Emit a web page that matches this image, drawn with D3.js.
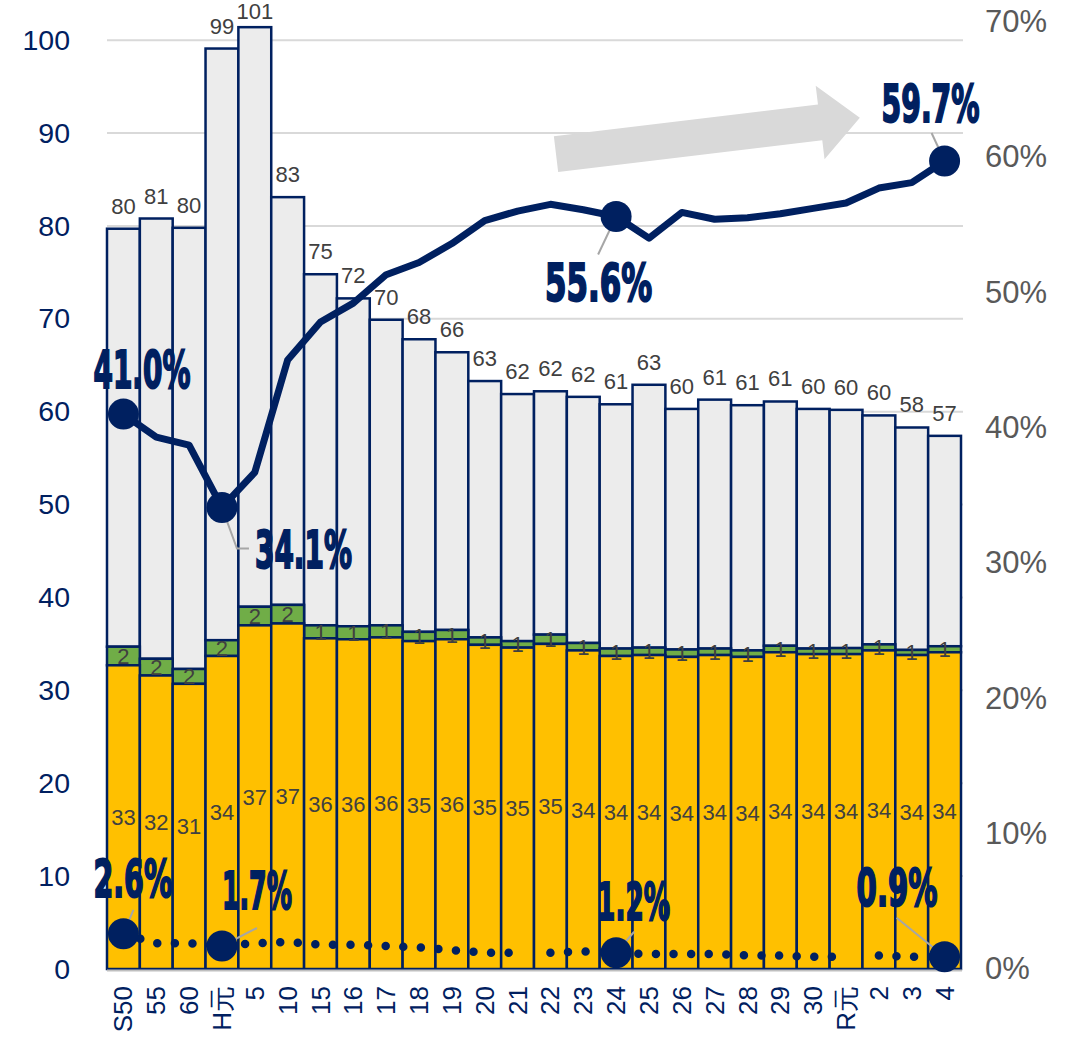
<!DOCTYPE html>
<html><head><meta charset="utf-8">
<script src="https://cdn.jsdelivr.net/npm/d3@7"></script>
<style>body{margin:0;background:#fff}svg{display:block}</style>
</head><body>
<svg id="c" width="1071" height="1040"></svg>
<script>
// ---- data ----
const categories = ["S50","55","60","H元","5","10","15","16","17","18","19","20","21","22","23","24","25","26","27","28","29","30","R元","2","3","4"];
const totals = [79.7,80.8,79.8,99.1,101.4,83.1,74.8,72.2,69.9,67.8,66.4,63.3,61.9,62.2,61.6,60.8,62.9,60.3,61.3,60.7,61.1,60.3,60.2,59.6,58.3,57.4];
const yellowVals = [32.7,31.6,30.7,33.7,37.0,37.2,35.6,35.5,35.7,35.3,35.5,34.9,34.6,35.0,34.3,33.7,33.8,33.6,33.8,33.6,34.1,33.9,33.9,34.3,33.8,34.1];
const greenVals = [2.0,1.8,1.6,1.7,2.0,2.0,1.4,1.4,1.3,1.0,1.0,0.8,0.7,1.0,0.8,0.8,0.8,0.8,0.7,0.7,0.7,0.6,0.65,0.65,0.55,0.65];
const ratioA = [0.410,0.393,0.387,0.341,0.367,0.450,0.478,0.492,0.513,0.522,0.536,0.553,0.560,0.565,0.561,0.556,0.540,0.559,0.554,0.555,0.558,0.562,0.566,0.577,0.581,0.597];
const ratioB = [0.026,0.019,0.019,0.017,0.019,0.020,0.018,0.018,0.017,0.016,0.014,0.012,0.012,0.012,0.013,0.012,0.011,0.011,0.011,0.010,0.010,0.009,0.009,0.010,0.009,0.009];
const dotBreaks = [12,22];
const leftTicks = [0,10,20,30,40,50,60,70,80,90,100];
const rightTicks = [0,0.1,0.2,0.3,0.4,0.5,0.6,0.7];

// ---- layout ----
const svg = d3.select("#c");
const X0 = 107, X1 = 961, Y0 = 969, YT = 21.6;
const x = d3.scaleBand().domain(categories).range([X0, X1]).padding(0);
const xi = d3.scaleLinear().domain([0, categories.length]).range([X0, X1]);
const yL = d3.scaleLinear().domain([0, 102]).range([Y0, YT]);
const yR = d3.scaleLinear().domain([0, 0.70]).range([Y0, YT]);
const navy = "#002060";
const cx = i => x(categories[i]) + x.bandwidth() / 2;

// gridlines
svg.append("g").selectAll("line").data(leftTicks.filter(d => d > 0)).join("line")
  .attr("x1", X0).attr("x2", X1 + 2).attr("y1", d => yL(d)).attr("y2", d => yL(d))
  .attr("stroke", "#d9d9d9").attr("stroke-width", 2);

// left axis
const gl = svg.append("g").attr("transform", `translate(${X0},0)`)
  .call(d3.axisLeft(yL).tickValues(leftTicks).tickSize(0).tickPadding(37));
gl.select(".domain").remove();
gl.selectAll("text").attr("fill", navy).attr("font-size", 28.5).attr("font-family", "Liberation Sans, Arial, sans-serif");

// right axis
const gr = svg.append("g").attr("transform", `translate(${X1},0)`)
  .call(d3.axisRight(yR).tickValues(rightTicks).tickFormat(d3.format(".0%")).tickSize(0).tickPadding(24));
gr.select(".domain").remove();
gr.selectAll("text").attr("fill", "#595959").attr("font-size", 31).attr("font-family", "Liberation Sans, Arial, sans-serif");

// stacked bars
const rows = categories.map((c, i) => ({c, i, y: yellowVals[i], g: greenVals[i], t: totals[i]}));
const bars = svg.append("g");
const segs = [
  {key: "grey", lo: d => d.y + d.g, hi: d => d.t, fill: "#ececec"},
  {key: "green", lo: d => d.y, hi: d => d.y + d.g, fill: "#70ad47"},
  {key: "yellow", lo: d => 0, hi: d => d.y, fill: "#ffc000"}
];
segs.forEach(s => {
  bars.append("g").selectAll("rect").data(rows).join("rect")
    .attr("x", d => x(d.c)).attr("width", x.bandwidth())
    .attr("y", d => yL(s.hi(d))).attr("height", d => yL(s.lo(d)) - yL(s.hi(d)))
    .attr("fill", s.fill).attr("stroke", navy).attr("stroke-width", 2.5);
});

// axis baseline
svg.append("line").attr("x1", X0).attr("x2", X1 + 1).attr("y1", Y0 + 1.5).attr("y2", Y0 + 1.5)
  .attr("stroke", "#bfbfbf").attr("stroke-width", 2);

// bar labels
const lblFont = "Liberation Sans, Arial, sans-serif";
const lbl = svg.append("g").attr("font-family", lblFont).attr("font-size", 22).attr("fill", "#404040").attr("text-anchor", "middle");
lbl.selectAll("text.tot").data(rows).join("text").attr("class", "tot")
  .attr("x", d => cx(d.i)).attr("y", d => Math.max(yL(d.t) - 15, 19)).text(d => Math.round(d.t));
lbl.selectAll("text.yel").data(rows).join("text").attr("class", "yel")
  .attr("x", d => cx(d.i)).attr("y", d => yL(d.y / 2)).attr("dy", "0.36em").text(d => Math.round(d.y));
lbl.selectAll("text.grn").data(rows).join("text").attr("class", "grn")
  .attr("x", d => cx(d.i)).attr("y", d => yL(d.y + d.g / 2)).attr("dy", "0.36em").text(d => Math.round(d.g));

// x axis labels
svg.append("g").selectAll("text").data(categories).join("text")
  .attr("transform", (d, i) => `translate(${cx(i) + 9},${Y0 + 17}) rotate(-90)`)
  .attr("text-anchor", "end").attr("font-size", 26).attr("font-family", lblFont)
  .attr("fill", navy).text(d => d);

// trend arrow (in data space)
(function(){
  const sx = xi(13.67), sy = yR(0.602), ex = xi(22.92), ey = yR(0.629);
  const len = Math.hypot(ex - sx, ey - sy), ang = Math.atan2(ey - sy, ex - sx) * 180 / Math.PI;
  const bw = 18, hw = 37, hl = 40;
  svg.append("path").attr("transform", `translate(${sx},${sy}) rotate(${ang})`)
    .attr("d", `M0,${-bw}L${len - hl},${-bw}L${len - hl},${-hw}L${len},0L${len - hl},${hw}L${len - hl},${bw}L0,${bw}Z`)
    .attr("fill", "#d9d9d9");
})();

// ratio line
svg.append("path").datum(ratioA)
  .attr("d", d3.line().x((d, i) => cx(i)).y(d => yR(d)))
  .attr("fill", "none").attr("stroke", navy).attr("stroke-width", 7).attr("stroke-linejoin", "round");

// dotted line in runs
const runs = [];
let start = 0;
[...dotBreaks, ratioB.length - 1].forEach(b => { runs.push(d3.range(start, b + 1)); start = b + 1; });
svg.append("g").selectAll("path").data(runs).join("path")
  .attr("d", r => d3.line().x(i => cx(i)).y(i => yR(ratioB[i]))(r))
  .attr("fill", "none").attr("stroke", navy).attr("stroke-width", 8.5)
  .attr("stroke-linecap", "round").attr("stroke-dasharray", "0 17.6");

// leader lines + markers + labels
const annots = [
  {s: ratioA, i: 0, dx: -30, dy: -26, w: 97, lead: null},
  {s: ratioA, i: 3, dx: 33, dy: 61, w: 97, lead: [[15, 41], [27, 41]]},
  {s: ratioA, i: 15, dx: -71, dy: 85, w: 107, lead: [[-18, 38]]},
  {s: ratioA, i: 25, dx: -63, dy: -39, w: 98, lead: [[-13, -28]]},
  {s: ratioB, i: 0, dx: -30, dy: -37, w: 79, lead: [[10, -24]]},
  {s: ratioB, i: 3, dx: 0, dy: -37, w: 70, lead: [[35, -18]]},
  {s: ratioB, i: 15, dx: -19, dy: -33, w: 73, lead: [[18, -21]]},
  {s: ratioB, i: 25, dx: -88, dy: -51, w: 81, lead: [[-48, -39]]}
];
annots.forEach(a => {
  const px = cx(a.i), py = yR(a.s[a.i]);
  if (a.lead) {
    const pts = [[px, py], ...a.lead.map(p => [px + p[0], py + p[1]])];
    svg.append("path").attr("d", d3.line()(pts)).attr("fill", "none").attr("stroke", "#a6a6a6").attr("stroke-width", 2);
  }
});
svg.append("g").selectAll("circle").data(annots).join("circle")
  .attr("cx", a => cx(a.i)).attr("cy", a => yR(a.s[a.i])).attr("r", 15.5).attr("fill", navy);
svg.append("g").selectAll("text").data(annots).join("text")
  .attr("x", a => cx(a.i) + a.dx).attr("y", a => yR(a.s[a.i]) + a.dy)
  .attr("textLength", a => a.w).attr("lengthAdjust", "spacingAndGlyphs")
  .attr("font-family", "Liberation Sans Narrow, Arial Narrow, DejaVu Sans Condensed, sans-serif")
  .attr("font-weight", "bold").attr("font-size", 52).attr("fill", navy)
  .attr("stroke", navy).attr("stroke-width", 2)
  .text(a => d3.format(".1%")(a.s[a.i]));
</script>
</body></html>
